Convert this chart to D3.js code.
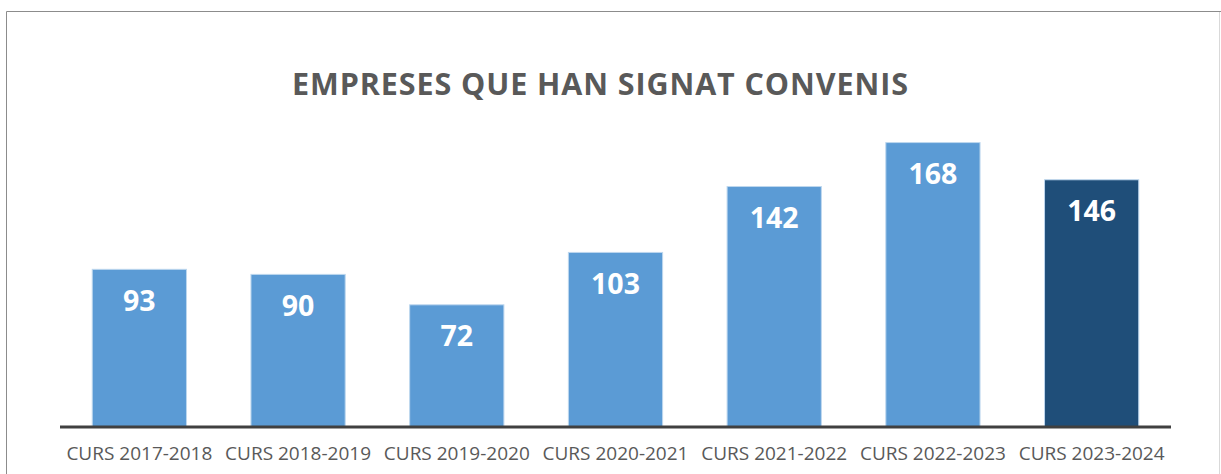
<!DOCTYPE html>
<html>
<head>
<meta charset="utf-8">
<script src="https://cdn.jsdelivr.net/npm/d3@7"></script>
<style>
  html, body { margin: 0; padding: 0; background: #fff; }
  svg { display: block; }
</style>
</head>
<body>
<svg id="chart" width="1221" height="474"></svg>
<script>
const categories = ["CURS 2017-2018", "CURS 2018-2019", "CURS 2019-2020", "CURS 2020-2021", "CURS 2021-2022", "CURS 2022-2023", "CURS 2023-2024"];
const values = [93, 90, 72, 103, 142, 168, 146];
const barColors = ["#5B9BD5", "#5B9BD5", "#5B9BD5", "#5B9BD5", "#5B9BD5", "#5B9BD5", "#1F4E79"];
const title = "EMPRESES QUE HAN SIGNAT CONVENIS";

const svg = d3.select("#chart");

// chart frame
svg.append("line").attr("x1", 6.5).attr("x2", 6.5).attr("y1", 11.5).attr("y2", 474).attr("stroke", "#8c8c8c").attr("stroke-width", 1);
svg.append("line").attr("x1", 6.5).attr("x2", 1221).attr("y1", 11.5).attr("y2", 11.5).attr("stroke", "#8c8c8c").attr("stroke-width", 1);
svg.append("line").attr("x1", 1219.5).attr("x2", 1219.5).attr("y1", 12).attr("y2", 474).attr("stroke", "#d9d9d9").attr("stroke-width", 1);

const x = d3.scaleBand().domain(categories).range([60, 1171]).paddingInner(0.4).paddingOuter(0.2);
const y = d3.scaleLinear().domain([0, 200]).range([426, 88]);

svg.append("text")
  .attr("x", 600).attr("y", 95)
  .attr("text-anchor", "middle")
  .attr("font-family", "Open Sans")
  .attr("font-weight", "bold")
  .attr("font-size", 30.5)
  .attr("textLength", 616)
  .attr("lengthAdjust", "spacing")
  .attr("fill", "#595959")
  .text(title);

const g = svg.append("g");
g.selectAll("rect.bar").data(values).join("rect")
  .attr("class", "bar")
  .attr("x", (d, i) => x(categories[i]) + 0.5)
  .attr("width", x.bandwidth() - 1)
  .attr("y", d => y(d) + 0.5)
  .attr("height", d => y(0) - y(d))
  .attr("fill", (d, i) => barColors[i])
  .attr("stroke", "#BDD7EE")
  .attr("stroke-width", 1);

g.selectAll("text.val").data(values).join("text")
  .attr("class", "val")
  .attr("x", (d, i) => x(categories[i]) + x.bandwidth() / 2)
  .attr("y", d => y(d) + 42)
  .attr("text-anchor", "middle")
  .attr("font-family", "Open Sans")
  .attr("font-weight", "bold")
  .attr("font-size", 28.5)
  .attr("fill", "#ffffff")
  .text(d => d);

// x axis
const axis = svg.append("g").attr("transform", "translate(0,427)")
  .call(d3.axisBottom(x).tickSize(0).tickPadding(0));
axis.select(".domain").attr("stroke", "#404040").attr("stroke-width", 3).attr("d", "M60,0H1171");
axis.selectAll(".tick text")
  .attr("y", 33).attr("dy", 0)
  .attr("font-family", "Open Sans")
  .attr("font-size", 19)
  .attr("fill", "#595959");
</script>
</body>
</html>
